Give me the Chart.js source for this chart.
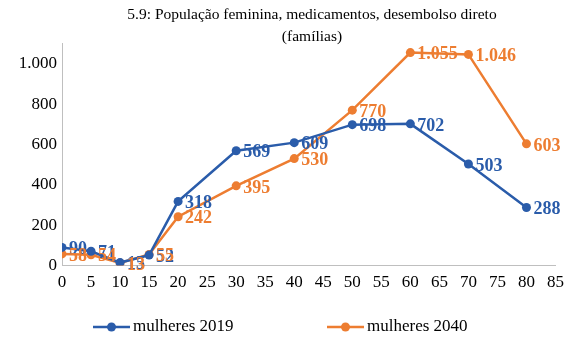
<!DOCTYPE html>
<html>
<head>
<meta charset="utf-8">
<script src="https://cdn.jsdelivr.net/npm/chart.js@4/dist/chart.umd.min.js"></script>
<style>
  html, body { margin: 0; padding: 0; background: #fff; }
  #wrap { width: 571px; height: 337px; }
</style>
</head>
<body>
<div id="wrap"><canvas id="chart" width="571" height="337"></canvas></div>
<script>
const idades = [0, 5, 10, 15, 20, 30, 40, 50, 60, 70, 80];
const mulheres2019 = [90, 71, 15, 52, 318, 569, 609, 698, 702, 503, 288];
const mulheres2040 = [58, 54, 13, 55, 242, 395, 530, 770, 1055, 1046, 603];

const seriesNames = ['mulheres 2019', 'mulheres 2040'];
const titleLines = ['5.9: População feminina, medicamentos, desembolso direto', '(famílias)'];
const blue = '#2A5CAA';
const orange = '#ED7D31';
const serif = '"Liberation Serif", "Times New Roman", serif';

function fmt(v) {
    return String(v).replace(/\B(?=(\d{3})+(?!\d))/g, '.');
}

function toXY(values) {
    return values.map((v, i) => ({ x: idades[i], y: v }));
}

// two-line title, centred a little right of the canvas middle
const titleBlock = {
    id: 'titleBlock',
    afterDraw(chart) {
        const ctx = chart.ctx;
        ctx.save();
        ctx.font = '15.5px ' + serif;
        ctx.fillStyle = '#000';
        ctx.textAlign = 'center';
        ctx.textBaseline = 'middle';
        ctx.fillText(titleLines[0], 312, 15);
        ctx.fillText(titleLines[1], 312, 37);
        ctx.restore();
    }
};

// value labels to the right of each point
const valueLabels = {
    id: 'valueLabels',
    afterDatasetsDraw(chart) {
        const ctx = chart.ctx;
        ctx.save();
        ctx.font = 'bold 18px ' + serif;
        ctx.textBaseline = 'middle';
        ctx.textAlign = 'left';
        chart.data.datasets.forEach((ds, di) => {
            const meta = chart.getDatasetMeta(di);
            ctx.fillStyle = ds.borderColor;
            meta.data.forEach((pt, i) => {
                ctx.fillText(fmt(ds.data[i].y), pt.x + 7, pt.y + 2);
            });
        });
        ctx.restore();
    }
};

// legend along the bottom: line with a dot, then the series name
const bottomLegend = {
    id: 'bottomLegend',
    afterDraw(chart) {
        const ctx = chart.ctx;
        const y = 327;
        const starts = [93, 327];
        ctx.save();
        ctx.font = '17px ' + serif;
        ctx.textBaseline = 'middle';
        chart.data.datasets.forEach((ds, di) => {
            const x0 = starts[di];
            ctx.strokeStyle = ds.borderColor;
            ctx.lineWidth = 2.5;
            ctx.beginPath();
            ctx.moveTo(x0, y);
            ctx.lineTo(x0 + 37, y);
            ctx.stroke();
            ctx.fillStyle = ds.borderColor;
            ctx.beginPath();
            ctx.arc(x0 + 18.5, y, 4.5, 0, Math.PI * 2);
            ctx.fill();
            ctx.fillStyle = '#000';
            ctx.fillText(ds.label, x0 + 40, y);
        });
        ctx.restore();
    }
};

new Chart(document.getElementById('chart'), {
    type: 'line',
    data: {
        datasets: [
            {
                label: seriesNames[0],
                data: toXY(mulheres2019),
                borderColor: blue,
                backgroundColor: blue,
                borderWidth: 2.5,
                pointRadius: 4.5,
                pointBackgroundColor: blue,
                pointBorderWidth: 0
            },
            {
                label: seriesNames[1],
                data: toXY(mulheres2040),
                borderColor: orange,
                backgroundColor: orange,
                borderWidth: 2.5,
                pointRadius: 4.5,
                pointBackgroundColor: orange,
                pointBorderWidth: 0
            }
        ]
    },
    options: {
        responsive: false,
        animation: false,
        layout: { padding: { left: 0, right: 13, top: 43.5, bottom: 37 } },
        plugins: {
            legend: { display: false },
            tooltip: { enabled: false },
            title: { display: false }
        },
        scales: {
            x: {
                type: 'linear',
                min: 0,
                max: 85,
                ticks: {
                    stepSize: 5,
                    color: '#000',
                    font: { family: serif, size: 17 },
                    padding: 7,
                    maxRotation: 0
                },
                grid: { display: false, drawTicks: false },
                border: { display: true, color: '#BFBFBF', width: 1 }
            },
            y: {
                min: 0,
                max: 1100,
                afterBuildTicks(scale) {
                    scale.ticks = scale.ticks.filter(t => t.value % 200 === 0);
                },
                afterFit(scale) {
                    scale.width = 62;
                },
                ticks: {
                    stepSize: 200,
                    color: '#000',
                    font: { family: serif, size: 17 },
                    padding: 5,
                    callback: v => fmt(v)
                },
                grid: { display: false, drawTicks: false },
                border: { display: true, color: '#BFBFBF', width: 1 }
            }
        }
    },
    plugins: [titleBlock, valueLabels, bottomLegend]
});
</script>
</body>
</html>
